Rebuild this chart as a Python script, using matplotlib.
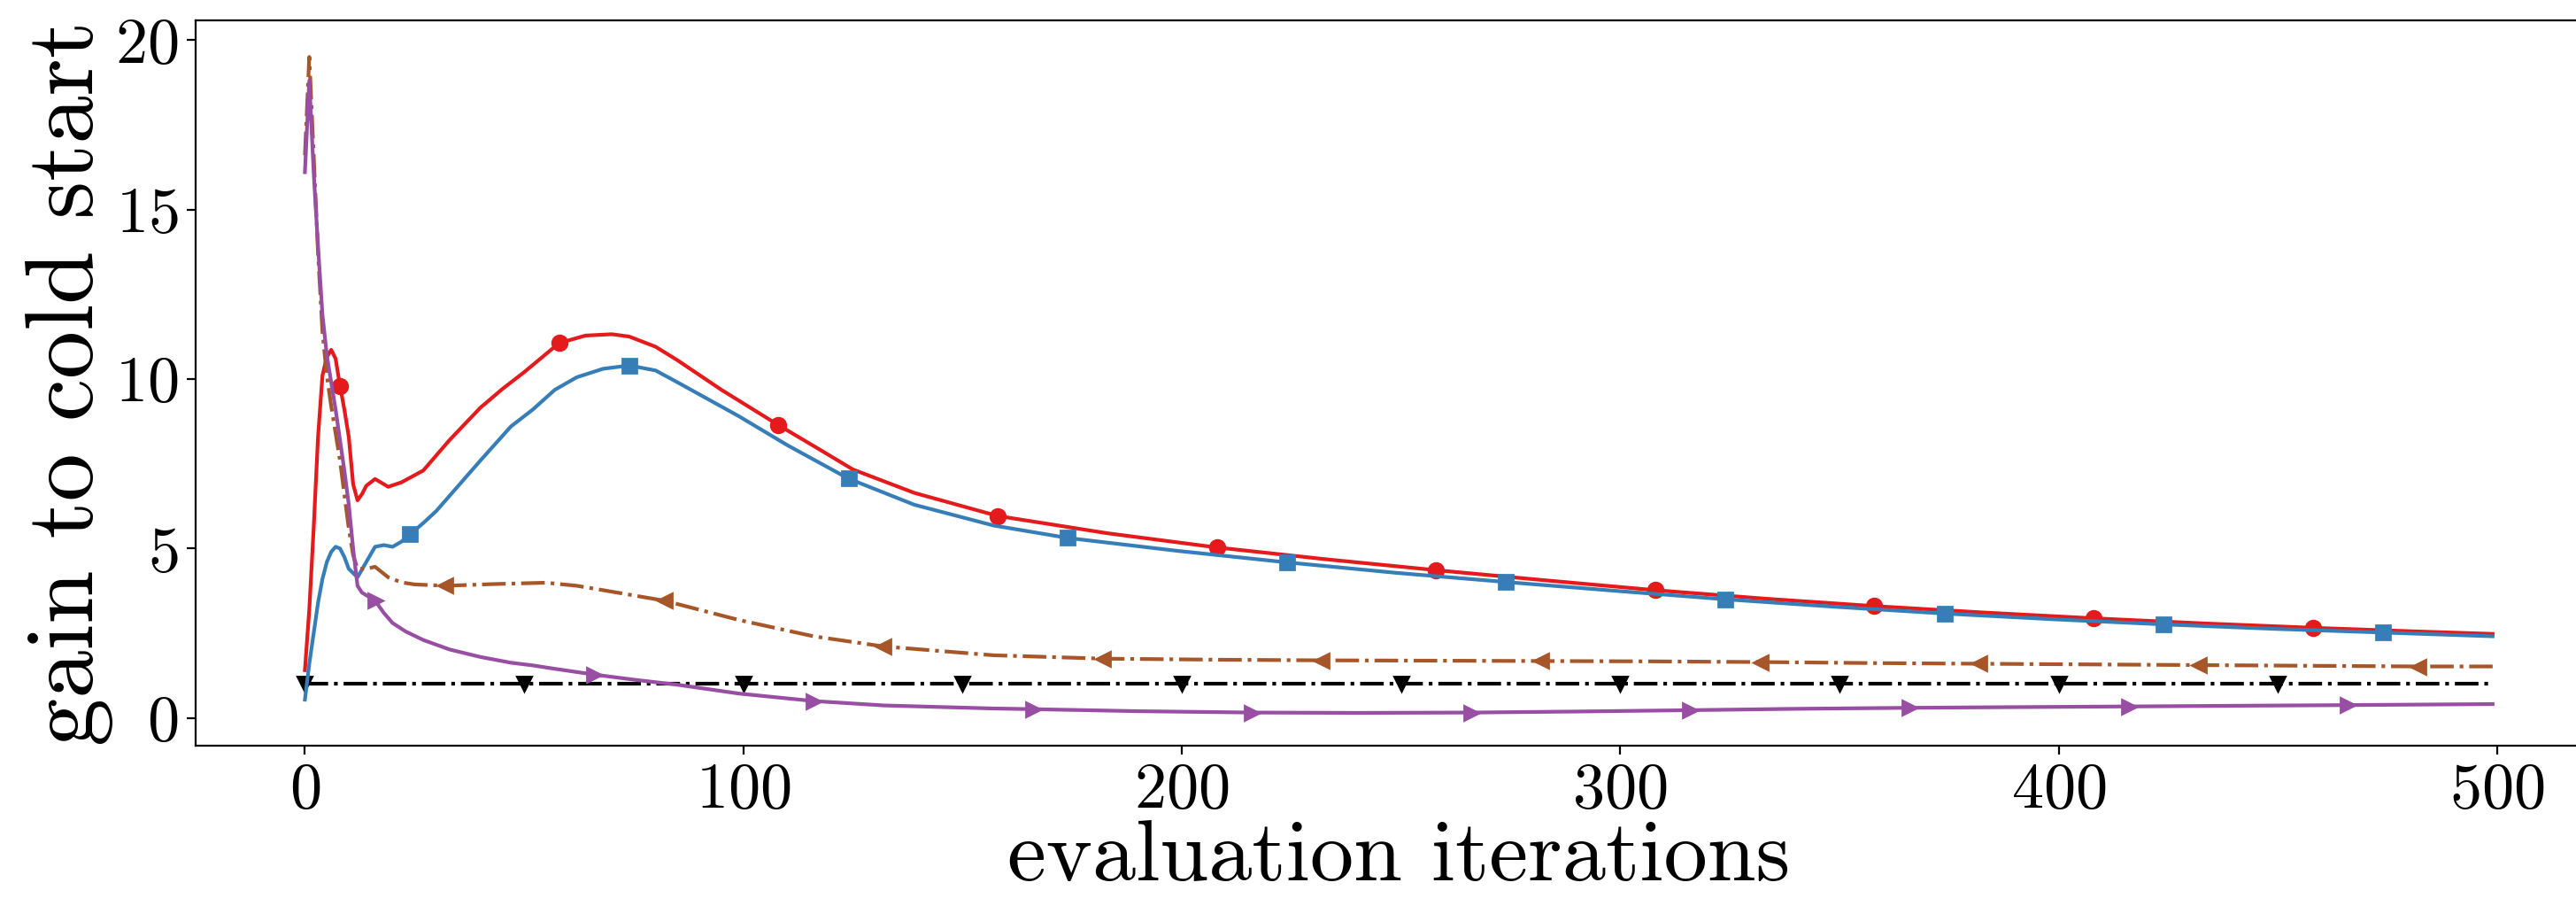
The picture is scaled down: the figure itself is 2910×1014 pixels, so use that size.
import matplotlib
matplotlib.use("Agg")
import matplotlib.pyplot as plt

plt.rcParams['font.family'] = 'cmr10'
plt.rcParams['mathtext.fontset'] = 'cm'
plt.rcParams['axes.formatter.use_mathtext'] = True

# red, circles
red_x = [0, 1, 2, 3, 4, 5, 6, 7, 8, 9, 10, 11, 12, 13, 14, 16, 19, 22, 27, 33, 40, 45, 50,
         58, 64, 70, 74, 80, 85, 95, 108, 117, 125, 139, 158, 183, 208, 233, 258, 283,
         308, 333, 358, 383, 408, 433, 458, 480, 499]
red_y = [1.41, 3.2, 5.6, 8.3, 10.1, 10.65, 10.86, 10.6, 9.8, 9.1, 8.3, 6.9, 6.42, 6.6, 6.85,
         7.05, 6.82, 6.95, 7.3, 8.2, 9.15, 9.7, 10.2, 11.06, 11.28, 11.32, 11.25, 10.95,
         10.55, 9.68, 8.64, 7.95, 7.33, 6.64, 5.96, 5.45, 5.03, 4.68, 4.36, 4.06, 3.77,
         3.52, 3.30, 3.11, 2.94, 2.79, 2.66, 2.56, 2.48]
red_marks = [8, 58, 108, 158, 208, 258, 308, 358, 408, 458]

# blue, squares
blue_x = [0, 1, 2, 3, 4, 5, 6, 7, 8, 9, 10, 12, 14, 16, 18, 20, 22, 24, 27, 30, 35, 40, 47,
          52, 57, 62, 68, 74, 80, 85, 99, 110, 124, 139, 157, 174, 199, 224, 249, 274, 299,
          324, 349, 374, 399, 424, 449, 474, 499]
blue_y = [0.54, 1.6, 2.5, 3.4, 4.1, 4.6, 4.9, 5.05, 5.0, 4.75, 4.4, 4.15, 4.6, 5.05, 5.1,
          5.05, 5.2, 5.42, 5.75, 6.11, 6.85, 7.59, 8.6, 9.1, 9.68, 10.05, 10.3, 10.4, 10.25,
          9.9, 8.9, 8.05, 7.06, 6.29, 5.68, 5.31, 4.93, 4.59, 4.28, 4.01, 3.75, 3.50, 3.28,
          3.08, 2.91, 2.76, 2.63, 2.52, 2.41]
blue_marks = [24, 74, 124, 174, 224, 274, 324, 374, 424, 474]

# brown, left triangles, dash-dot
brown_x = [0, 1, 2, 3, 4, 5, 6, 7, 8, 9, 10, 11, 12, 14, 16, 19, 22, 25, 32, 43, 55, 62, 68,
           82, 99, 116, 132, 157, 182, 207, 232, 257, 282, 307, 332, 357, 382, 407, 432,
           457, 482, 499]
brown_y = [16.6, 19.5, 16.6, 13.7, 11.4, 10.1, 9.2, 8.4, 7.6, 6.6, 5.6, 4.8, 4.4, 4.4, 4.46,
           4.15, 4.0, 3.94, 3.9, 3.95, 3.99, 3.9, 3.77, 3.46, 2.89, 2.41, 2.11, 1.85, 1.75,
           1.72, 1.70, 1.69, 1.68, 1.67, 1.65, 1.62, 1.60, 1.58, 1.56, 1.54, 1.52, 1.52]
brown_marks = [32, 82, 132, 182, 232, 282, 332, 382, 432, 482]

# purple, right triangles
purple_x = [0, 1, 2, 3, 4, 5, 6, 7, 8, 9, 10, 11, 12, 13, 14, 16, 18, 20, 23, 27, 33, 40, 47,
            52, 57, 66, 75, 85, 99, 116, 132, 157, 166, 190, 216, 240, 266, 290, 316, 340,
            366, 390, 416, 440, 466, 499]
purple_y = [16.1, 18.8, 16.1, 13.9, 11.9, 10.7, 9.9, 9.1, 8.2, 7.3, 6.3, 5.0, 3.9, 3.7, 3.62,
            3.46, 3.1, 2.8, 2.55, 2.3, 2.02, 1.8, 1.63, 1.55, 1.45, 1.28, 1.13, 0.98, 0.72,
            0.5, 0.37, 0.28, 0.26, 0.2, 0.16, 0.15, 0.16, 0.19, 0.23, 0.27, 0.30, 0.32, 0.34,
            0.36, 0.38, 0.41]
purple_marks = [16, 66, 116, 166, 216, 266, 316, 366, 416, 466]

# cold start baseline
cold_x = [0, 50, 100, 150, 200, 250, 300, 350, 400, 450, 499]
cold_y = [1.0, 1.0, 1.0, 1.0, 1.0, 1.0, 1.0, 1.0, 1.0, 1.0, 1.0]
cold_marks = [0, 50, 100, 150, 200, 250, 300, 350, 400, 450]

series = [
    (cold_x, cold_y, cold_marks, 'k', 'v', '-.'),
    (red_x, red_y, red_marks, '#e41a1c', 'o', '-'),
    (blue_x, blue_y, blue_marks, '#377eb8', 's', '-'),
    (brown_x, brown_y, brown_marks, '#a65628', '<', '-.'),
    (purple_x, purple_y, purple_marks, '#984ea3', '>', '-'),
]

fig = plt.figure(figsize=(14.55, 5.07), dpi=200)
ax = fig.add_axes([0.0759, 0.1699, 0.9342, 0.8071])

for xs, ys, marks, col, mk, ls in series:
    idx = [xs.index(m) for m in marks]
    ax.plot(xs, ys, color=col, marker=mk, linestyle=ls, linewidth=1.5,
            markersize=6, markevery=idx)

ax.set_xlim(-24.95, 523.95)
ax.set_ylim(-0.81, 20.57)
ax.set_xticks([0, 100, 200, 300, 400, 500])
ax.set_yticks([0, 5, 10, 15, 20])
ax.tick_params(labelsize=26)

ax.set_xlabel('evaluation iterations', fontsize=35.5)
ax.set_ylabel('gain to cold start', fontsize=39)
ax.xaxis.set_label_coords(0.5, -0.1035)
ax.yaxis.set_label_coords(-0.034, 0.5)

fig.savefig('out.png', dpi=200)
